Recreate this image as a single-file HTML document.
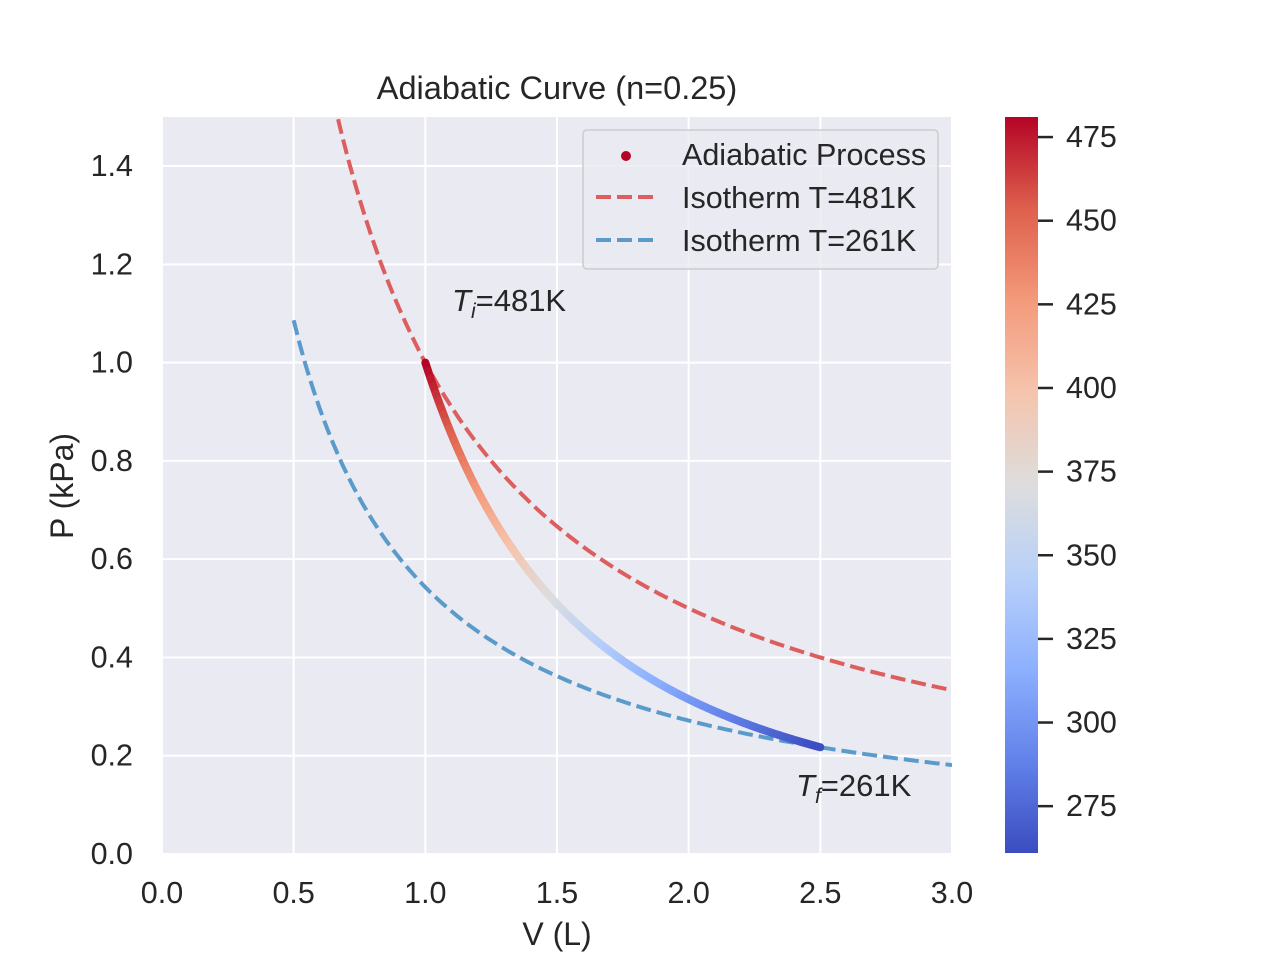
<!DOCTYPE html>
<html><head><meta charset="utf-8"><style>
body{margin:0;background:#fff;}
svg text{font-family:"Liberation Sans","DejaVu Sans",sans-serif;fill:#262626;}
</style></head><body>
<svg id="chart" width="1280" height="960" xmlns="http://www.w3.org/2000/svg">
<defs>
<linearGradient id="cw" x1="0" y1="1" x2="0" y2="0">
<stop offset="0" stop-color="rgb(59,76,192)"/><stop offset="0.125" stop-color="rgb(98,130,234)"/>
<stop offset="0.25" stop-color="rgb(141,176,254)"/><stop offset="0.375" stop-color="rgb(184,208,249)"/>
<stop offset="0.5" stop-color="rgb(221,221,221)"/><stop offset="0.625" stop-color="rgb(245,196,173)"/>
<stop offset="0.75" stop-color="rgb(244,154,123)"/><stop offset="0.875" stop-color="rgb(222,96,77)"/>
<stop offset="1" stop-color="rgb(180,4,38)"/></linearGradient>
<clipPath id="clip"><rect x="162" y="117" width="790" height="737"/></clipPath>
</defs>
<rect x="162" y="117" width="790" height="737" fill="#eaeaf2"/>
<g id="grid"></g>
<g id="series" clip-path="url(#clip)"></g>
<g id="ticks"></g>
<text x="557" y="99" font-size="32.5" text-anchor="middle">Adiabatic Curve (n=0.25)</text>
<text x="557" y="945" font-size="32" text-anchor="middle">V (L)</text>
<text transform="translate(73,486) rotate(-90)" font-size="32" text-anchor="middle">P (kPa)</text>
<text x="452" y="311" font-size="31"><tspan font-style="italic">T</tspan><tspan font-style="italic" font-size="21" dy="7">i</tspan><tspan dy="-7">=481K</tspan></text>
<text x="796" y="796" font-size="31"><tspan font-style="italic">T</tspan><tspan font-style="italic" font-size="21" dy="7">f</tspan><tspan dy="-7">=261K</tspan></text>
<g>
<rect x="583" y="130" width="355" height="139" rx="4" fill="#eaeaf2" fill-opacity="0.8" stroke="#cccccc" stroke-width="1.5"/>
<circle cx="626" cy="156" r="5" fill="rgb(180,4,38)"/>
<text x="682" y="165" font-size="30.5">Adiabatic Process</text>
<line x1="596" y1="197" x2="656" y2="197" stroke="#dd5e5e" stroke-width="4" stroke-dasharray="15,6"/>
<text x="682" y="208" font-size="30.5">Isotherm T=481K</text>
<line x1="596" y1="240" x2="656" y2="240" stroke="#5a9bcb" stroke-width="4" stroke-dasharray="15,6"/>
<text x="682" y="251" font-size="30.5">Isotherm T=261K</text>
</g>
<rect x="1005" y="117" width="33" height="736" fill="url(#cw)"/>
<g id="cbticks"></g>
</svg>
<script>
const xTicks=[0,0.5,1,1.5,2,2.5,3];
const yTicks=[0,0.2,0.4,0.6,0.8,1.0,1.2,1.4];
const cbTicks=[275,300,325,350,375,400,425,450,475];
const adiabatV=[1.0,2.5];
const adiabatP0=1.0;
const gammaVal=[1.6667];
const isoTemps=[481,261];
const isoConst=[1.0,0.543];
const isoVStart=[0.5,0.5];
const tRange=[261,481];
const NS='http://www.w3.org/2000/svg';
const X=v=>162+v*263.33, Y=p=>854-p*491.4;
const CB=t=>853-(t-tRange[0])/(tRange[1]-tRange[0])*736;
function mk(tag,a,parent){const e=document.createElementNS(NS,tag);for(const k in a)e.setAttribute(k,a[k]);parent.appendChild(e);return e;}
const grid=document.getElementById('grid'),ticks=document.getElementById('ticks'),ser=document.getElementById('series'),cbt=document.getElementById('cbticks');
xTicks.forEach(v=>{const l=mk('line',{x1:X(v),x2:X(v),y1:117,y2:854,stroke:'#fff','stroke-width':2},grid);


const t=mk('text',{x:X(v),y:903,'font-size':30.5,'text-anchor':'middle'},ticks);t.textContent=v.toFixed(1);

});
yTicks.forEach(p=>{const l=mk('line',{x1:162,x2:952,y1:Y(p),y2:Y(p),stroke:'#fff','stroke-width':2},grid);


const t=mk('text',{x:133,y:Y(p)+10,'font-size':30.5,'text-anchor':'end'},ticks);t.textContent=p.toFixed(1);

});
cbTicks.forEach(v=>{const y=CB(v);mk('line',{x1:1038,x2:1053,y1:y,y2:y,stroke:'#262626','stroke-width':2.5},cbt);
const t=mk('text',{x:1066,y:y+10,'font-size':30.5},cbt);t.textContent=v;

});
const colors=['#dd5e5e','#5a9bcb'];
isoTemps.forEach((T,i)=>{let d='';for(let k=0;k<=200;k++){const v=isoVStart[i]+(3-isoVStart[i])*k/200;const p=isoConst[i]/v;d+=(k?'L':'M')+X(v).toFixed(1)+','+Y(p).toFixed(1);}
const e=mk('path',{d:d,fill:'none',stroke:colors[i],'stroke-width':4,'stroke-dasharray':'15,6'},ser);

});
const stops=[[59,76,192],[98,130,234],[141,176,254],[184,208,249],[221,221,221],[245,196,173],[244,154,123],[222,96,77],[180,4,38]];
function cmap(f){f=Math.max(0,Math.min(1,f))*8;const i=Math.min(7,Math.floor(f)),r=f-i;const a=stops[i],b=stops[i+1];return 'rgb('+a.map((c,j)=>Math.round(c+(b[j]-c)*r)).join(',')+')';}
const N=150,g=gammaVal[0];
for(let k=0;k<N;k++){const v1=adiabatV[0]+(adiabatV[1]-adiabatV[0])*k/N,v2=adiabatV[0]+(adiabatV[1]-adiabatV[0])*(k+1)/N;
const p1=adiabatP0*Math.pow(v1/adiabatV[0],-g),p2=adiabatP0*Math.pow(v2/adiabatV[0],-g);
const T=tRange[1]*(p1*v1)/(adiabatP0*adiabatV[0]);
const e=mk('line',{x1:X(v1),y1:Y(p1),x2:X(v2),y2:Y(p2),stroke:cmap((T-tRange[0])/(tRange[1]-tRange[0])),'stroke-width':8,'stroke-linecap':'round'},ser);

}
</script>
</body></html>
